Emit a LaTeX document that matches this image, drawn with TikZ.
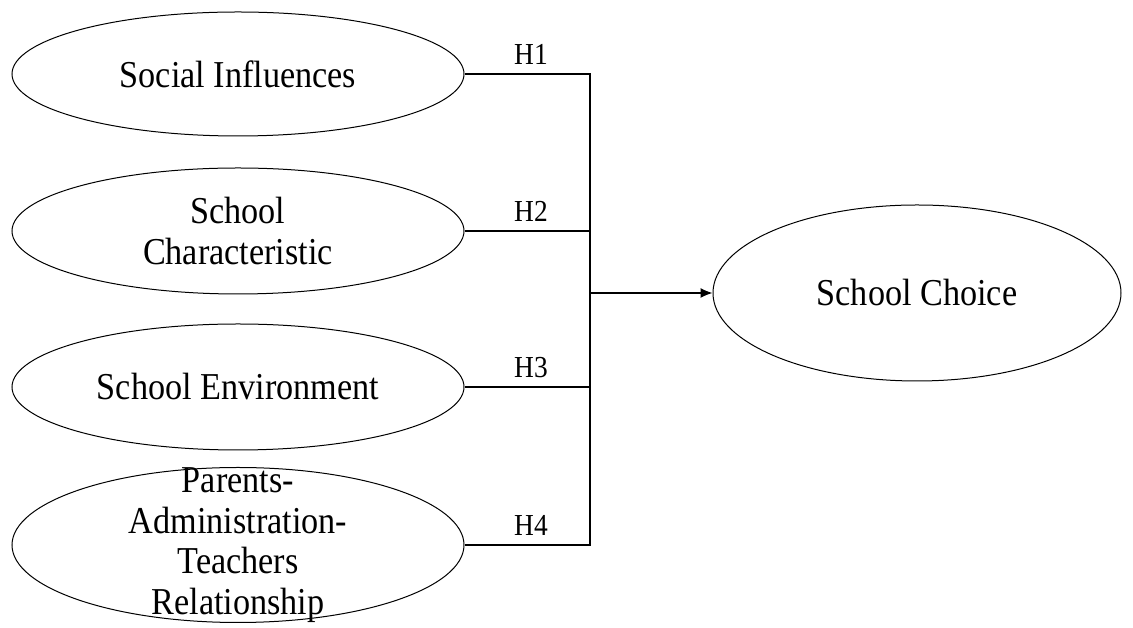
\documentclass[tikz,border=0pt]{standalone}
\usepackage{fontspec}
\setmainfont[FakeStretch=0.9]{Liberation Serif}
\usetikzlibrary{shapes.geometric,arrows.meta}
\begin{document}
\begin{tikzpicture}[x=1pt,y=1pt,
  ell/.style={draw,ellipse,line width=1pt,inner sep=0pt},
  txt/.style={align=center,inner sep=0pt,font=\fontsize{38}{40.5}\selectfont},
  conn/.style={line width=1.2pt},
  hlab/.style={font=\fontsize{30.5}{32}\selectfont,anchor=base,inner sep=0pt}]
\useasboundingbox (0,0) rectangle (1133,628);
\node[ell,minimum width=452pt,minimum height=124pt] (e1) at (238,554) {};
\node[ell,minimum width=452pt,minimum height=126pt] (e2) at (238,397) {};
\node[ell,minimum width=452pt,minimum height=126pt] (e3) at (238,241) {};
\node[ell,minimum width=452pt,minimum height=155pt] (e4) at (238,83) {};
\node[ell,minimum width=408pt,minimum height=176pt] (sc) at (917,335) {};
\node[txt] (t1) at (e1) {Social Influences};
\node[txt] (t2) at (e2) {School\\Characteristic};
\node[txt] (t3) at (e3) {School Environment};
\node[txt] (t4) at (e4) {Parents-\\Administration-\\Teachers\\Relationship};
\node[txt] (t5) at (sc) {School Choice};
\coordinate (j1) at (590,554);
\coordinate (j2) at (590,397);
\coordinate (j3) at (590,241);
\coordinate (j4) at (590,83);
\coordinate (jm) at (590,335);
\draw[conn] (e1.east) -- (j1) -- (j4) -- (e4.east);
\draw[conn] (e2.east) -- (j2);
\draw[conn] (e3.east) -- (j3);
\draw[conn,-{Latex[length=12pt,width=10pt]}] (jm) -- (sc.west);
\node[hlab] (h1) at (531,563) {H1};
\node[hlab] (h2) at (531,406) {H2};
\node[hlab] (h3) at (531,250) {H3};
\node[hlab] (h4) at (531,92) {H4};
\end{tikzpicture}
\end{document}
